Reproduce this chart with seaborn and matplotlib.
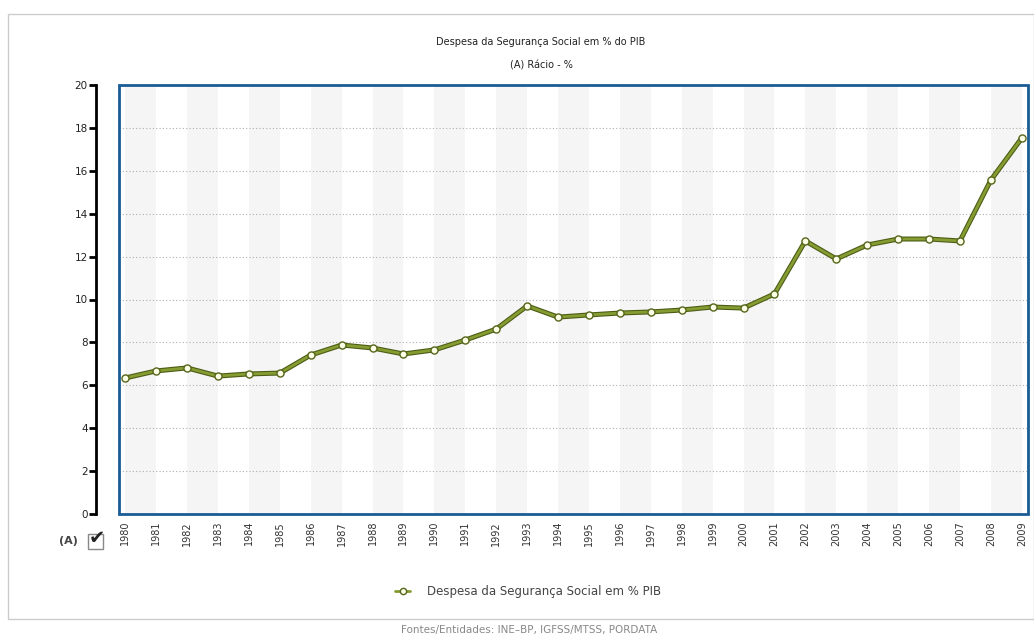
import matplotlib
matplotlib.use("Agg")
import matplotlib.pyplot as plt
import seaborn as sns
import pandas as pd
from matplotlib.patches import Rectangle
from matplotlib.lines import Line2D
import matplotlib.patheffects as pe

years = list(range(1980, 2010))
values = [6.34, 6.67, 6.81, 6.43, 6.53, 6.57, 7.41, 7.88, 7.74, 7.46,
          7.65, 8.11, 8.62, 9.70, 9.18, 9.28, 9.37, 9.42, 9.51, 9.65,
          9.60, 10.26, 12.73, 11.89, 12.54, 12.82, 12.82, 12.73, 15.57, 17.53]
y_ticks = [0, 2, 4, 6, 8, 10, 12, 14, 16, 18, 20]
title = "Despesa da Segurança Social em % do PIB"
subtitle = "(A) Rácio - %"
series_name = "Despesa da Segurança Social em % PIB"
source = "Fontes/Entidades: INE\u2013BP, IGFSS/MTSS, PORDATA"

sns.set_theme(style="white")
plt.rcParams['font.family'] = ['DejaVu Sans']

W, H = 1034, 637
fig = plt.figure(figsize=(W / 100, H / 100), dpi=100)
fig.patch.set_facecolor("white")

x0, x1, yt, yb = 119, 1028, 85, 514
ax = fig.add_axes([x0 / W, 1 - yb / H, (x1 - x0) / W, (yb - yt) / H])

df = pd.DataFrame({"Ano": years, "Valor": values})

# alternating column shading
for i in range(0, len(years) - 1, 2):
    ax.axvspan(years[i], years[i] + 1, color="#f5f5f5", zorder=0, lw=0)

# dotted grid
for t in y_ticks[1:-1]:
    ax.axhline(t, color="#b0b0b0", lw=0.8, ls=(0, (1, 2)), zorder=1)

line_color = "#849c32"
edge_color = "#4d5c14"
sns.lineplot(data=df, x="Ano", y="Valor", ax=ax, color=line_color, lw=2.0,
             zorder=3, legend=False,
             path_effects=[pe.Stroke(linewidth=3.6, foreground=edge_color), pe.Normal()])
sns.scatterplot(data=df, x="Ano", y="Valor", ax=ax, s=26, color="#fbfde6",
                edgecolor="#55661a", linewidth=1.0, zorder=4, legend=False)

ax.set_xlim(1979.8, 2009.2)
ax.set_ylim(0, 20)
ax.set_xlabel("")
ax.set_ylabel("")

# blue frame
for s in ["top", "right", "bottom"]:
    ax.spines[s].set_visible(False)
frame = Rectangle((0, 0), 1, 1, transform=ax.transAxes, fill=False,
                  edgecolor="#1a5c94", lw=2.0, zorder=5, clip_on=False)
ax.add_patch(frame)

ax.spines["left"].set_position(("outward", 16.5))
ax.spines["left"].set_color("black")
ax.spines["left"].set_linewidth(2)
ax.set_yticks(y_ticks)
ax.tick_params(axis="y", which="major", direction="out", length=5, width=2,
               color="black", labelsize=7.5, pad=1, left=True, labelcolor="#222222")
ax.set_xticks(years)
ax.set_xticklabels([str(y) for y in years], rotation=90, fontsize=7)
ax.tick_params(axis="x", length=0, pad=5, labelcolor="#333333")

# "(A)" + checkbox
fig.text(68 / W, 1 - 541 / H, "(A)", fontsize=8, color="#444444",
         ha="center", va="center", fontweight="bold")
fig.patches.append(Rectangle((88 / W, 1 - 549 / H), 15 / W, 15 / H,
                             transform=fig.transFigure, fill=True,
                             facecolor="white", edgecolor="#888888", lw=1))
fig.text(97 / W, 1 - 538 / H, "\u2714", fontsize=14, color="#222222",
         ha="center", va="center")

# titles
fig.text(541 / W, 1 - 42 / H, title, fontsize=7, ha="center", va="center", color="#222222")
fig.text(541 / W, 1 - 66 / H, subtitle, fontsize=7, ha="center", va="center", color="#222222")

# legend
handle = Line2D([0], [0], color=line_color, lw=2.0, marker="o", markersize=4.5,
                markerfacecolor="#fbfde6", markeredgecolor="#55661a", markeredgewidth=1.0)
leg = fig.legend(handles=[handle], labels=[series_name], loc="center",
                 bbox_to_anchor=(528 / W, 1 - 592 / H), frameon=False,
                 fontsize=8.5, handlelength=1.3, handletextpad=1.4)
for t in leg.get_texts():
    t.set_color("#444444")

# outer border
fig.patches.append(Rectangle((8 / W, 1 - 619 / H), (W - 8) / W, (619 - 14) / H,
                             transform=fig.transFigure, fill=False,
                             edgecolor="#cccccc", lw=1))

fig.text(529 / W, 1 - 630 / H, source, fontsize=7.5, ha="center", va="center",
         color="#888888")

fig.savefig("out.png", dpi=100)
